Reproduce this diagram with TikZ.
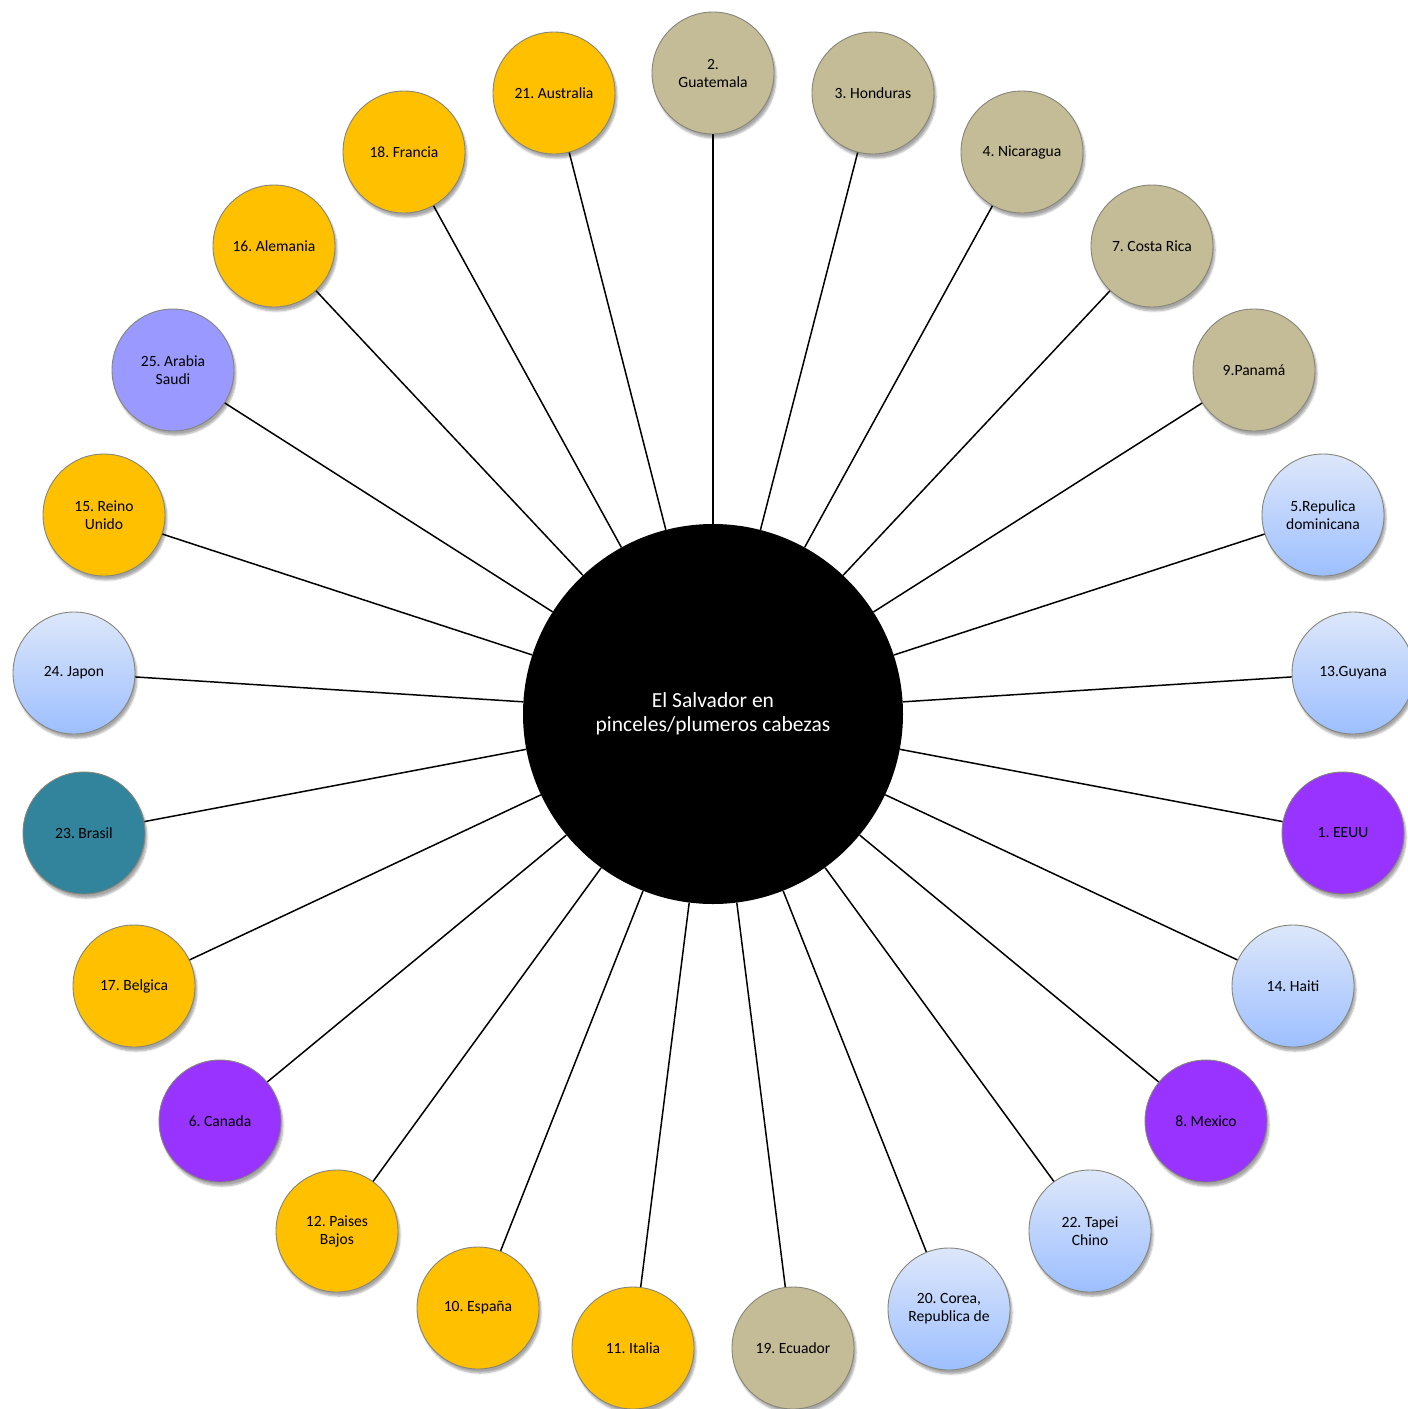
\documentclass[tikz,border=0pt]{standalone}
\usepackage{fontspec}
\setmainfont{Carlito}
\usetikzlibrary{shadows.blur}
\definecolor{tanc}{HTML}{C4BC96}
\definecolor{yellowc}{HTML}{FFC000}
\definecolor{purplec}{HTML}{9933FF}
\definecolor{tealc}{HTML}{31849B}
\definecolor{periw}{HTML}{9999FF}
\definecolor{bluetop}{HTML}{DDE7FA}
\definecolor{bluebot}{HTML}{9DBFFF}
\definecolor{rimc}{HTML}{85857A}
\begin{document}
\frenchspacing
\begin{tikzpicture}[x=1pt,y=-1pt,
  country/.style={circle,minimum size=122pt,inner sep=0pt,draw=rimc,line width=0.9pt,
    align=center,font=\fontsize{15.6}{18}\selectfont,text=black,
    blur shadow={shadow xshift=2pt,shadow yshift=-4pt,shadow blur steps=6,shadow opacity=35}},
  tanfill/.style={country,fill=tanc},
  yelfill/.style={country,fill=yellowc},
  purfill/.style={country,fill=purplec},
  tealfill/.style={country,fill=tealc},
  perifill/.style={country,fill=periw},
  bluefill/.style={country,top color=bluetop,bottom color=bluebot},
  hub/.style={circle,fill=black,minimum size=380pt,inner sep=0pt,align=center,
    text=white,font=\fontsize{21.5}{24}\selectfont},
  spoke/.style={line width=1.5pt,black}]
\useasboundingbox (0,0) rectangle (1408,1409);
\clip (0,0) rectangle (1408,1409);

\node[hub] (c) at (713,714) {El Salvador en\\pinceles/plumeros cabezas};

\foreach \n/\x/\y/\s/\t in {
  gua/713/73/tanfill/{2.\\Guatemala},
  hon/873/93/tanfill/{3. Honduras},
  nic/1022/152/tanfill/{4. Nicaragua},
  cri/1152/246/tanfill/{7. Costa Rica},
  pan/1254/370/tanfill/{9.Panamá},
  dom/1323/515/bluefill/{5.Repulica\\dominicana},
  guy/1353/673/bluefill/{13.Guyana},
  usa/1343/833/purfill/{1. EEUU},
  hai/1293/986/bluefill/{14. Haiti},
  mex/1206/1121/purfill/{8. Mexico},
  tpe/1090/1231/bluefill/{22. Tapei\\Chino},
  kor/949/1309/bluefill/{20. Corea,\\Republica de},
  ecu/793/1348/tanfill/{19. Ecuador},
  ita/633/1348/yelfill/{11. Italia},
  esp/478/1308/yelfill/{10. España},
  nld/337/1231/yelfill/{12. Paises\\Bajos},
  can/220/1121/purfill/{6. Canada},
  bel/134/986/yelfill/{17. Belgica},
  bra/84/833/tealfill/{23. Brasil},
  jpn/74/673/bluefill/{24. Japon},
  gbr/104/515/yelfill/{15. Reino\\Unido},
  sau/173/370/perifill/{25. Arabia\\Saudi},
  deu/274/246/yelfill/{16. Alemania},
  fra/404/152/yelfill/{18. Francia},
  aus/554/93/yelfill/{21. Australia}}
{
  \node[\s] (\n) at (\x,\y) {\t};
  \draw[spoke] (c) -- (\n);
}
\end{tikzpicture}
\end{document}
